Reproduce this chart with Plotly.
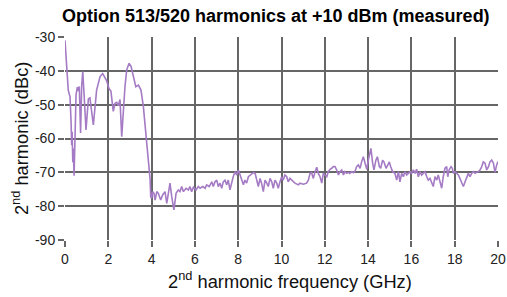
import plotly.graph_objects as go

freq_ghz = [
    0.00, 0.05, 0.10, 0.15, 0.20, 0.23, 0.28, 0.31, 0.33, 0.36, 0.38, 0.42, 0.47,
    0.51, 0.57, 0.62, 0.66, 0.72, 0.77, 0.82, 0.88, 0.97, 1.08, 1.15, 1.31, 1.46,
    1.62, 1.74, 1.92, 2.03, 2.12, 2.23, 2.31, 2.39, 2.46, 2.54, 2.62, 2.69, 2.77,
    2.85, 2.96, 3.05, 3.16, 3.27, 3.39, 3.51, 3.62, 3.70, 3.77, 3.85, 3.93, 3.96,
    4.00, 4.05, 4.11, 4.16, 4.24, 4.31, 4.42, 4.51, 4.62, 4.70, 4.77, 4.85, 4.93,
    5.03, 5.13, 5.23, 5.31, 5.39, 5.47, 5.59, 5.70, 5.77, 5.85, 5.93, 6.05, 6.16,
    6.24, 6.36, 6.47, 6.54, 6.66, 6.78, 6.85, 6.93, 7.01, 7.08, 7.16, 7.24, 7.31,
    7.39, 7.47, 7.54, 7.62, 7.70, 7.77, 7.85, 7.93, 8.01, 8.08, 8.16, 8.24, 8.31,
    8.39, 8.47, 8.59, 8.70, 8.78, 8.85, 8.93, 9.01, 9.08, 9.16, 9.24, 9.32, 9.39,
    9.47, 9.55, 9.62, 9.70, 9.78, 9.85, 9.93, 10.01, 10.08, 10.16, 10.24, 10.31,
    10.39, 10.47, 10.62, 10.78, 10.85, 11.01, 11.16, 11.24, 11.32, 11.39, 11.47,
    11.55, 11.63, 11.70, 11.78, 11.86, 11.93, 12.01, 12.09, 12.16, 12.24, 12.32,
    12.39, 12.47, 12.55, 12.63, 12.70, 12.78, 12.86, 12.93, 13.01, 13.09, 13.16,
    13.24, 13.32, 13.40, 13.47, 13.55, 13.63, 13.70, 13.78, 13.86, 13.94, 14.01,
    14.09, 14.13, 14.21, 14.27, 14.36, 14.43, 14.52, 14.58, 14.67, 14.73, 14.83,
    14.89, 14.98, 15.04, 15.13, 15.24, 15.32, 15.40, 15.47, 15.55, 15.63, 15.70,
    15.78, 15.86, 15.94, 16.01, 16.09, 16.17, 16.24, 16.32, 16.40, 16.47, 16.55,
    16.63, 16.71, 16.78, 16.86, 16.94, 17.01, 17.09, 17.17, 17.24, 17.32, 17.40,
    17.47, 17.55, 17.63, 17.68, 17.74, 17.83, 17.89, 17.94, 18.01, 18.09, 18.17,
    18.24, 18.32, 18.40, 18.48, 18.55, 18.63, 18.71, 18.78, 18.86, 18.94, 19.02,
    19.09, 19.17, 19.25, 19.32, 19.40, 19.48, 19.56, 19.63, 19.71, 19.79, 19.86,
    19.94, 20.00,
]

harmonic_dbc = [
    -31.0, -36.0, -41.0, -45.7, -47.0, -47.5, -55.0, -62.0, -58.0, -67.0, -63.0, -71.0, -58.0,
    -47.0, -44.8, -46.0, -44.6, -58.4, -44.6, -40.2, -46.8, -57.5, -48.3, -48.0, -56.0, -45.7,
    -41.7, -40.8, -42.9, -45.2, -46.0, -52.0, -49.6, -49.3, -50.3, -48.5, -59.5, -51.5, -44.7,
    -39.7, -37.8, -38.7, -41.7, -44.7, -44.2, -45.7, -50.6, -56.5, -62.4, -66.4, -72.0, -77.2,
    -77.7, -75.7, -76.2, -78.2, -75.7, -76.2, -78.2, -76.7, -75.7, -79.2, -75.7, -73.2, -77.2,
    -81.1, -76.2, -75.2, -75.7, -74.2, -75.7, -74.7, -75.2, -74.2, -75.7, -74.4, -75.2, -74.2,
    -74.7, -74.2, -74.7, -73.7, -74.2, -72.8, -74.2, -72.8, -72.3, -74.2, -73.2, -74.7, -72.8,
    -72.3, -73.7, -72.3, -75.2, -72.8, -71.3, -69.8, -70.8, -69.3, -70.8, -71.8, -73.7, -72.3,
    -73.2, -71.3, -70.8, -70.1, -70.3, -71.8, -74.2, -71.8, -73.2, -75.7, -72.3, -73.2, -74.2,
    -71.8, -72.8, -74.7, -72.3, -73.2, -74.7, -72.8, -71.3, -72.3, -70.8, -71.3, -72.8,
    -71.8, -72.3, -73.2, -73.7, -73.2, -73.5, -73.2, -72.3, -70.3, -70.1, -71.8,
    -69.8, -68.5, -70.3, -71.3, -73.2, -70.3, -70.8, -71.3, -69.8, -69.1, -68.8,
    -68.3, -68.3, -69.3, -70.8, -69.8, -69.3, -70.8, -69.8, -70.3, -70.0, -70.3,
    -69.8, -70.1, -69.6, -68.3, -67.8, -68.8, -66.9, -65.4, -67.3, -69.1, -66.4,
    -63.4, -62.9, -67.3, -69.3, -66.4, -65.4, -68.3, -68.8, -66.4, -66.9, -68.8,
    -67.8, -66.9, -68.3, -69.8, -70.3, -72.3, -69.8, -72.8, -70.3, -71.3, -69.8,
    -70.8, -70.3, -69.8, -70.3, -69.3, -70.3, -69.1, -71.3, -69.8, -70.8, -70.3,
    -69.8, -71.3, -72.3, -71.8, -73.2, -74.2, -71.3, -72.3, -70.8, -73.2, -74.7,
    -71.3, -68.8, -68.3, -71.3, -69.3, -68.3, -68.8, -70.3, -69.8, -70.3, -70.8,
    -71.8, -72.8, -74.2, -72.8, -71.3, -70.3, -71.3, -70.3, -69.8, -70.3, -70.0,
    -69.8, -69.3, -68.3, -66.9, -67.3, -69.3, -68.3, -66.9, -66.4, -67.3, -70.0,
    -67.8, -66.8,
]

x_ticks = [0, 2, 4, 6, 8, 10, 12, 14, 16, 18, 20]
y_ticks = [-90, -80, -70, -60, -50, -40, -30]

fig = go.Figure()
fig.add_trace(go.Scatter(
    x=freq_ghz, y=harmonic_dbc, mode="lines",
    line=dict(color="#A47BC4", width=1.6),
    hoverinfo="skip", showlegend=False,
))

grid = "#666666"
fig.update_layout(
    width=507, height=297,
    margin=dict(l=65, r=9, t=37, b=57, autoexpand=False),
    paper_bgcolor="white", plot_bgcolor="white",
    font=dict(family="Liberation Sans, Arial, sans-serif", color="#222"),
    title=dict(
        text="<b>Option 513/520 harmonics at +10 dBm (measured)</b>",
        x=0.544, xanchor="center", xref="container",
        y=0.946, yanchor="middle", yref="container",
        font=dict(size=18, color="#000"),
    ),
    xaxis=dict(
        range=[0, 20], tickvals=x_ticks, ticktext=[str(v) for v in x_ticks],
        showgrid=True, gridcolor=grid, gridwidth=1.5,
        zeroline=False, showline=False, automargin=False,
        ticks="outside", ticklen=6, tickcolor=grid, tickwidth=1.5,
        tickfont=dict(size=14, color="#222"),
    ),
    yaxis=dict(
        range=[-90, -30], tickvals=y_ticks, ticktext=[str(v) for v in y_ticks],
        showgrid=True, gridcolor=grid, gridwidth=1.5,
        zeroline=False, showline=False, automargin=False,
        ticks="outside", ticklen=6, tickcolor=grid, tickwidth=1.5,
        tickfont=dict(size=14, color="#222"),
    ),
    annotations=[
        dict(text="2<sup>nd</sup> harmonic frequency (GHz)", xref="paper", yref="paper",
             x=0.52, y=-0.197, xanchor="center", yanchor="middle", showarrow=False,
             font=dict(size=18.3, color="#111")),
        dict(text="2<sup>nd</sup> harmonic (dBc)", xref="paper", yref="paper",
             x=-0.104, y=0.502, xanchor="center", yanchor="middle", showarrow=False,
             textangle=-90, font=dict(size=18.3, color="#111")),
    ],
)

fig.write_html("out.html", config={"displayModeBar": False},
               post_script="document.body.style.margin='0';")
